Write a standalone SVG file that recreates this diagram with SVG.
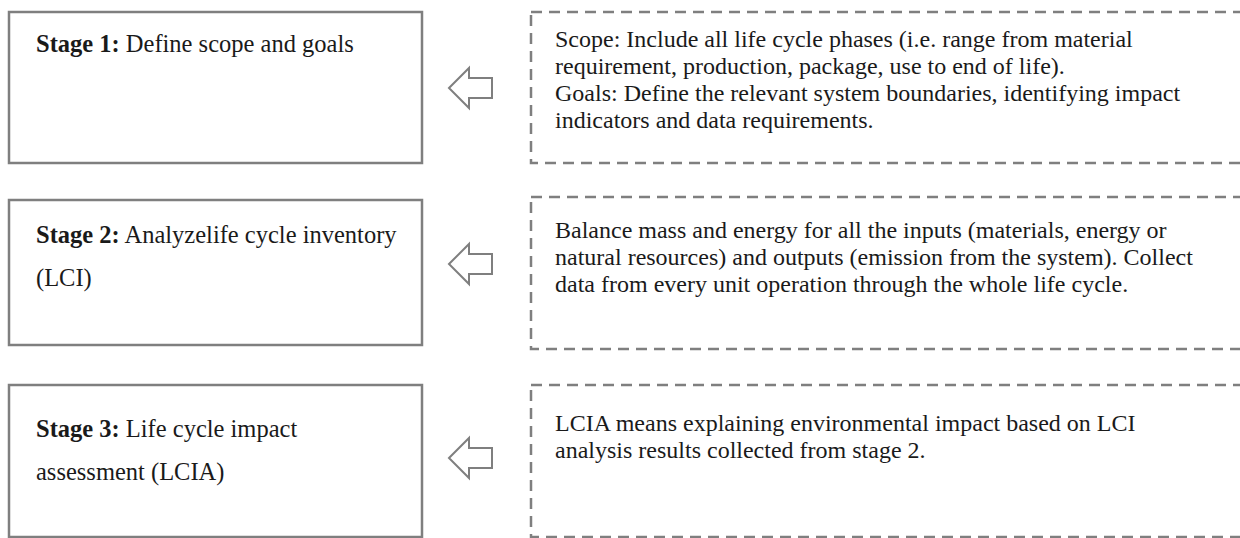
<svg xmlns="http://www.w3.org/2000/svg" width="1240" height="538" viewBox="0 0 1240 538">
<style>
.box{fill:#fff;stroke:#7f7f7f;stroke-width:2.5}
.dash{fill:#fff;stroke:#7f7f7f;stroke-width:2.5;stroke-dasharray:11 7}
.arr{fill:#fff;stroke:#7f7f7f;stroke-width:2}
text{font-family:"Liberation Serif","Times New Roman",serif;font-size:24px;fill:#1a1a1a}
.s{font-size:24.5px}
.b{font-weight:bold}
</style>
<rect width="1240" height="538" fill="#fff"/>
<g id="stage1">
<rect class="box" x="9" y="12" width="413" height="151"/>
<text class="s" x="36" y="52"><tspan class="b">Stage 1:</tspan> Define scope and goals</text>
</g>
<g id="stage2">
<rect class="box" x="9" y="200" width="413" height="145"/>
<text class="s" x="36" y="243"><tspan class="b">Stage 2:</tspan> Analyzelife cycle inventory</text>
<text class="s" x="36" y="286">(LCI)</text>
</g>
<g id="stage3">
<rect class="box" x="9" y="385" width="413" height="152"/>
<text class="s" x="36" y="437"><tspan class="b">Stage 3:</tspan> Life cycle impact</text>
<text class="s" x="36" y="480">assessment (LCIA)</text>
</g>
<g id="desc1">
<rect class="dash" x="531" y="12" width="720" height="151"/>
<text x="555" y="47">Scope: Include all life cycle phases (i.e. range from material</text>
<text x="555" y="74">requirement, production, package, use to end of life).</text>
<text x="555" y="101">Goals: Define the relevant system boundaries, identifying impact</text>
<text x="555" y="128">indicators and data requirements.</text>
</g>
<g id="desc2">
<rect class="dash" x="531" y="197" width="720" height="152"/>
<text x="555" y="238">Balance mass and energy for all the inputs (materials, energy or</text>
<text x="555" y="265">natural resources) and outputs (emission from the system). Collect</text>
<text x="555" y="292">data from every unit operation through the whole life cycle.</text>
</g>
<g id="desc3">
<rect class="dash" x="531" y="385" width="720" height="152"/>
<text x="555" y="431">LCIA means explaining environmental impact based on LCI</text>
<text x="555" y="458">analysis results collected from stage 2.</text>
</g>
<g id="connectors">
<path class="arr" d="M449,88 L469,68 L469,78 L492,78 L492,98 L469,98 L469,108 Z"/>
<path class="arr" d="M449,264 L469,244 L469,254 L492,254 L492,274 L469,274 L469,284 Z"/>
<path class="arr" d="M449,458 L469,438 L469,448 L492,448 L492,468 L469,468 L469,478 Z"/>
</g>
</svg>
